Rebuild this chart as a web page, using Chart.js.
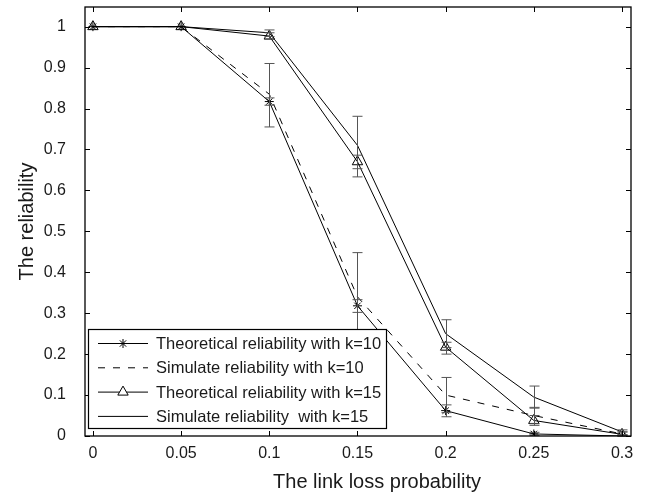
<!DOCTYPE html>
<html>
<head>
<meta charset="utf-8">
<script src="https://cdn.jsdelivr.net/npm/chart.js@4.4.1/dist/chart.umd.min.js"></script>
<style>
  html, body { margin: 0; padding: 0; background: #fff; }
  #chart { display: block; }
</style>
</head>
<body>
<canvas id="chart" width="646" height="498"></canvas>
<script>
const lossProb = [0, 0.05, 0.1, 0.15, 0.2, 0.25, 0.3];

const theoK10 = [1, 1, 0.817, 0.318, 0.062, 0.005, 0.0];
const simK10  = [1, 1, 0.835, 0.340, 0.100, 0.050, 0.005];
const theoK15 = [1, 1, 0.977, 0.670, 0.217, 0.038, 0.004];
const simK15  = [1, 1, 0.985, 0.710, 0.250, 0.095, 0.010];

// error bar ends (null = no bar)
const theoK10Low  = [null, null, 0.808, 0.302, 0.047, 0.001, 0.0];
const theoK10High = [null, null, 0.826, 0.333, 0.076, 0.009, 0.003];
const simK10Low   = [null, null, 0.755, 0.200, 0.057, 0.030, 0.0];
const simK10High  = [null, null, 0.910, 0.448, 0.143, 0.070, 0.010];
const theoK15Low  = [null, null, 0.970, 0.653, 0.200, 0.026, 0.0];
const theoK15High = [null, null, 0.985, 0.686, 0.229, 0.050, 0.010];
const simK15Low   = [null, null, 0.976, 0.633, 0.216, 0.068, 0.003];
const simK15High  = [null, null, 0.992, 0.781, 0.284, 0.122, 0.015];

const xTicks = [0, 0.05, 0.1, 0.15, 0.2, 0.25, 0.3];
const xTickLabels = ["0", "0.05", "0.1", "0.15", "0.2", "0.25", "0.3"];
const yTicks = [0, 0.1, 0.2, 0.3, 0.4, 0.5, 0.6, 0.7, 0.8, 0.9, 1];
const yTickLabels = ["0", "0.1", "0.2", "0.3", "0.4", "0.5", "0.6", "0.7", "0.8", "0.9", "1"];

const legendLabels = [
    "Theoretical reliability with k=10",
    "Simulate reliability with k=10",
    "Theoretical reliability with k=15",
    "Simulate reliability  with k=15"
];
const xTitle = "The link loss probability";
const yTitle = "The reliability";

const FONT = "'Liberation Sans', Arial, Helvetica, sans-serif";
const TEXT = "#1a1a1a";

const errorBars = [
    { low: simK10Low, high: simK10High },
    { low: theoK10Low, high: theoK10High },
    { low: simK15Low, high: simK15High },
    { low: theoK15Low, high: theoK15High }
];

function toPoints(arr) {
    return lossProb.map((p, i) => ({ x: p, y: arr[i] }));
}

function seriesStyle(label, data, extra) {
    return Object.assign({
        label: label,
        data: toPoints(data),
        borderColor: "#000",
        borderWidth: 1,
        tension: 0,
        pointRadius: 0,
        pointBorderColor: "#000",
        pointBackgroundColor: "rgba(0,0,0,0)",
        pointBorderWidth: 1
    }, extra);
}

// error bars, box with inward ticks, legend and x title
const extras = {
    id: "extras",
    afterDatasetsDraw(chart) {
        const ctx = chart.ctx;
        const xs = chart.scales.x, ys = chart.scales.y;
        ctx.save();
        ctx.strokeStyle = "#555";
        ctx.lineWidth = 1;
        errorBars.forEach(bar => {
            lossProb.forEach((p, i) => {
                if (bar.low[i] == null) return;
                const px = Math.round(xs.getPixelForValue(p)) + 0.5;
                const yl = ys.getPixelForValue(bar.low[i]);
                const yh = ys.getPixelForValue(bar.high[i]);
                ctx.beginPath();
                ctx.moveTo(px, yl); ctx.lineTo(px, yh);
                ctx.moveTo(px - 5, yl); ctx.lineTo(px + 5, yl);
                ctx.moveTo(px - 5, yh); ctx.lineTo(px + 5, yh);
                ctx.stroke();
            });
        });
        ctx.restore();
    },
    afterDraw(chart) {
        const ctx = chart.ctx;
        const a = chart.chartArea;
        const xs = chart.scales.x, ys = chart.scales.y;
        ctx.save();

        // axes box
        ctx.strokeStyle = "#000";
        ctx.lineWidth = 1.3;
        ctx.strokeRect(a.left, a.top, a.right - a.left, a.bottom - a.top);

        // inward ticks on all sides
        ctx.lineWidth = 1;
        ctx.beginPath();
        xTicks.forEach(v => {
            const px = Math.round(xs.getPixelForValue(v)) + 0.5;
            ctx.moveTo(px, a.bottom); ctx.lineTo(px, a.bottom - 5);
            ctx.moveTo(px, a.top); ctx.lineTo(px, a.top + 5);
        });
        yTicks.forEach(v => {
            const py = Math.round(ys.getPixelForValue(v)) + 0.5;
            ctx.moveTo(a.left, py); ctx.lineTo(a.left + 5, py);
            ctx.moveTo(a.right, py); ctx.lineTo(a.right - 5, py);
        });
        ctx.stroke();

        // legend box in the lower left corner
        const box = { left: 88.5, top: 329.5, width: 298, height: 99 };
        ctx.fillStyle = "#fff";
        ctx.fillRect(box.left, box.top, box.width, box.height);
        ctx.strokeStyle = "#000";
        ctx.lineWidth = 1.2;
        ctx.strokeRect(box.left, box.top, box.width, box.height);

        ctx.font = "16.5px " + FONT;
        ctx.textBaseline = "middle";
        ctx.textAlign = "left";
        chart.data.datasets.forEach((ds, i) => {
            const cy = box.top + 14 + i * 24.3;
            ctx.strokeStyle = "#000";
            ctx.lineWidth = 1;
            ctx.setLineDash(ds.borderDash || []);
            ctx.beginPath();
            ctx.moveTo(98, cy); ctx.lineTo(148, cy);
            ctx.stroke();
            ctx.setLineDash([]);
            if (ds.pointRadius > 0) {
                if (ds.pointStyle === "triangle") {
                    ctx.fillStyle = "#fff";
                    ctx.beginPath();
                    Chart.helpers.drawPoint(ctx, {
                        pointStyle: ds.pointStyle,
                        radius: ds.pointRadius,
                        rotation: 0,
                        borderWidth: 1
                    }, 123, cy);
                } else {
                    Chart.helpers.drawPoint(ctx, {
                        pointStyle: ds.pointStyle,
                        radius: ds.pointRadius,
                        rotation: 0,
                        borderWidth: 1
                    }, 123, cy);
                }
            }
            ctx.fillStyle = TEXT;
            ctx.fillText(ds.label, 156, cy + 1);
        });

        // x axis title
        ctx.font = "20px " + FONT;
        ctx.fillStyle = TEXT;
        ctx.textAlign = "center";
        ctx.fillText(xTitle, 377, 482);
        ctx.restore();
    }
};

new Chart(document.getElementById("chart"), {
    type: "line",
    data: {
        datasets: [
            seriesStyle(legendLabels[0], theoK10, { pointStyle: "star", pointRadius: 4.5 }),
            seriesStyle(legendLabels[1], simK10, { borderDash: [7, 8] }),
            seriesStyle(legendLabels[2], theoK15, { pointStyle: "triangle", pointRadius: 6 }),
            seriesStyle(legendLabels[3], simK15, {})
        ]
    },
    options: {
        responsive: false,
        animation: false,
        layout: { padding: { left: 0, right: 15, top: 5, bottom: 0 } },
        plugins: {
            legend: { display: false },
            tooltip: { enabled: false }
        },
        scales: {
            x: {
                type: "linear",
                min: -0.0045,
                max: 0.3051,
                afterBuildTicks: scale => { scale.ticks = xTicks.map(v => ({ value: v })); },
                afterFit: scale => {
                    scale.height = 62;
                    scale.paddingLeft = 0;
                    scale.paddingRight = 0;
                },
                grid: { display: false },
                border: { display: false },
                ticks: {
                    padding: 0,
                    color: TEXT,
                    font: { family: FONT, size: 16 },
                    maxRotation: 0,
                    callback: (v, i) => xTickLabels[i]
                }
            },
            y: {
                type: "linear",
                min: 0,
                max: 1.048,
                afterBuildTicks: scale => { scale.ticks = yTicks.map(v => ({ value: v })); },
                afterFit: scale => {
                    scale.width = 85;
                    scale.paddingTop = 0;
                    scale.paddingBottom = 0;
                },
                grid: { display: false },
                border: { display: false },
                ticks: {
                    padding: 11,
                    color: TEXT,
                    font: { family: FONT, size: 16 },
                    callback: (v, i) => yTickLabels[i]
                },
                title: {
                    display: true,
                    text: yTitle,
                    color: TEXT,
                    font: { family: FONT, size: 20 },
                    padding: { top: 15, bottom: 0 }
                }
            }
        }
    },
    plugins: [extras]
});
</script>
</body>
</html>
